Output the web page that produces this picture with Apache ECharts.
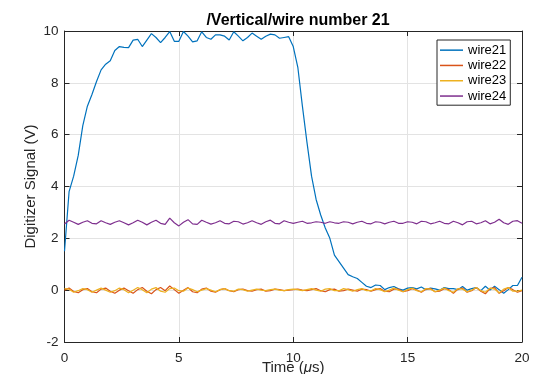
<!DOCTYPE html>
<html>
<head>
<meta charset="utf-8">
<script src="https://cdn.jsdelivr.net/npm/echarts@6/dist/echarts.min.js"></script>
<style>
  html, body { margin: 0; padding: 0; background: #fff; }
  #chart { width: 542px; height: 374px; }
</style>
</head>
<body>
<div id="chart"></div>
<script>
// sample times (microseconds)
const times = [
  0, 0.2, 0.4, 0.6, 0.8, 1, 1.2, 1.4, 1.6, 1.8,
  2, 2.2, 2.4, 2.6, 2.8, 3, 3.2, 3.4, 3.6, 3.8,
  4, 4.2, 4.4, 4.6, 4.8, 5, 5.2, 5.4, 5.6, 5.8,
  6, 6.2, 6.4, 6.6, 6.8, 7, 7.2, 7.4, 7.6, 7.8,
  8, 8.2, 8.4, 8.6, 8.8, 9, 9.2, 9.4, 9.6, 9.8,
  10, 10.2, 10.4, 10.6, 10.8, 11, 11.2, 11.4, 11.6, 11.8,
  12, 12.2, 12.4, 12.6, 12.8, 13, 13.2, 13.4, 13.6, 13.8,
  14, 14.2, 14.4, 14.6, 14.8, 15, 15.2, 15.4, 15.6, 15.8,
  16, 16.2, 16.4, 16.6, 16.8, 17, 17.2, 17.4, 17.6, 17.8,
  18, 18.2, 18.4, 18.6, 18.8, 19, 19.2, 19.4, 19.6, 19.8,
  20
]

const wire21 = [
  1.5, 3.8, 4.4, 5.2, 6.35, 7.1, 7.55, 8.05, 8.5, 8.72,
  8.85, 9.25, 9.4, 9.37, 9.36, 9.65, 9.68, 9.4, 9.65, 9.9,
  9.75, 9.55, 9.75, 9.98, 9.6, 9.6, 9.98, 9.8, 9.58, 9.62,
  9.97, 9.75, 9.68, 9.85, 9.85, 9.8, 9.65, 9.97, 9.8, 9.62,
  9.75, 9.92, 9.8, 9.68, 9.8, 9.88, 9.85, 9.72, 9.75, 9.78,
  9.4, 8.6, 7.1, 5.7, 4.4, 3.5, 2.9, 2.4, 2.0, 1.35,
  1.1, 0.85, 0.6, 0.52, 0.45, 0.3, 0.15, 0.1, 0.2, 0.18,
  0.02, 0.1, 0.14, 0.05, 0.0, 0.08, 0.1, 0.05, 0.12, 0.02,
  0.08, 0.05, 0.0, 0.1, 0.06, 0.06, 0.02, 0.14, 0.0, 0.06,
  0.1, -0.02, 0.15, 0.0, 0.15, 0.02, -0.12, 0.02, 0.18, 0.18,
  0.5
]

const wire22 = [
  0.0, 0.08, -0.05, -0.1, 0.02, 0.06, -0.06, -0.1, 0.04, 0.08,
  -0.04, -0.12, 0.0, 0.08, -0.02, -0.12, 0.02, 0.1, -0.04, -0.14,
  0.02, 0.1, -0.02, 0.16, 0.02, -0.12, 0.0, 0.1, -0.06, -0.1,
  0.04, 0.08, -0.04, -0.08, 0.02, 0.06, -0.02, -0.06, 0.02, 0.04,
  -0.02, -0.04, 0.02, 0.04, -0.04, -0.02, 0.04, 0.02, -0.02, 0.0,
  0.02, 0.04, 0.0, -0.02, 0.02, 0.06, -0.02, -0.06, 0.02, 0.04,
  -0.04, -0.02, 0.04, 0.0, -0.04, 0.04, 0.02, -0.04, 0.02, 0.06,
  -0.04, -0.06, 0.04, 0.04, -0.06, -0.02, 0.06, 0.0, -0.08, 0.04,
  0.06, -0.06, -0.04, 0.06, 0.02, -0.12, 0.04, 0.08, -0.08, -0.02,
  0.1, -0.04, -0.14, 0.06, 0.1, -0.12, -0.02, 0.1, 0.02, -0.08,
  -0.02
]

const wire23 = [
  0.06, 0.04, -0.08, -0.02, 0.06, 0.02, -0.08, 0.0, 0.08, 0.0,
  -0.08, -0.02, 0.08, 0.02, -0.1, 0.0, 0.1, 0.02, -0.1, 0.04,
  0.1, -0.04, -0.08, 0.06, 0.08, -0.02, -0.04, 0.08, 0.02, -0.06,
  0.0, 0.06, 0.0, -0.06, 0.02, 0.06, -0.02, -0.04, 0.04, 0.02,
  -0.04, 0.0, 0.04, 0.0, -0.02, 0.02, 0.04, 0.0, -0.02, 0.02,
  0.04, 0.02, -0.02, 0.02, 0.06, 0.0, -0.04, 0.04, 0.06, -0.02,
  -0.02, 0.06, 0.02, -0.04, 0.02, 0.06, -0.02, -0.02, 0.06, 0.02,
  -0.06, 0.0, 0.08, 0.0, -0.06, 0.02, 0.08, -0.02, -0.06, 0.06,
  0.04, -0.06, 0.0, 0.08, -0.02, -0.08, 0.06, 0.04, -0.06, 0.0,
  0.1, -0.02, -0.08, 0.08, 0.04, -0.1, 0.04, 0.1, -0.04, -0.04,
  0.0
]

const wire24 = [
  2.55, 2.7, 2.62, 2.54, 2.62, 2.68, 2.58, 2.56, 2.68, 2.6,
  2.54, 2.62, 2.68, 2.6, 2.52, 2.6, 2.7, 2.62, 2.52, 2.62,
  2.7, 2.58, 2.54, 2.78, 2.6, 2.48, 2.62, 2.72, 2.56, 2.54,
  2.7, 2.62, 2.55, 2.6, 2.68, 2.58, 2.56, 2.66, 2.64, 2.55,
  2.6, 2.68, 2.6, 2.54, 2.64, 2.7, 2.58, 2.56, 2.68, 2.62,
  2.58, 2.62, 2.66, 2.58, 2.6, 2.64, 2.62, 2.58, 2.64, 2.6,
  2.58, 2.64, 2.62, 2.56, 2.62, 2.66, 2.58, 2.56, 2.64, 2.62,
  2.56, 2.62, 2.66, 2.58, 2.58, 2.64, 2.62, 2.56, 2.66, 2.64,
  2.56, 2.6, 2.66, 2.58, 2.56, 2.66, 2.6, 2.52, 2.64, 2.66,
  2.56, 2.6, 2.68, 2.56, 2.62, 2.74, 2.6, 2.54, 2.66, 2.68,
  2.58
]

const seriesNames = ['wire21', 'wire22', 'wire23', 'wire24']
const seriesColors = ['#0072BD', '#D95319', '#EDB120', '#7E2F8E']
const seriesValues = [wire21, wire22, wire23, wire24]

const xTicks = [0, 20, 5]   // min, max, step
const yTicks = [-2, 10, 2]

const font = 'Liberation Sans, Arial, Helvetica, sans-serif'
const axisColor = '#262626'

const toPairs = (vals) => vals.map((v, i) => [times[i], v])

const chart = echarts.init(document.getElementById('chart'))

// top / right box lines, ticks only
const boxAxis = (extra) => Object.assign({
  type: 'value',
  axisLine: { show: true, onZero: false, lineStyle: { color: axisColor, width: 1 } },
  axisTick: { show: true, inside: true, length: 5, lineStyle: { color: axisColor } },
  axisLabel: { show: false },
  splitLine: { show: false }
}, extra)

const option = {
  animation: false,
  backgroundColor: '#fff',
  title: {
    text: '/Vertical/wire number 21',
    left: 293,
    top: 8,
    textAlign: 'center',
    textStyle: { fontFamily: font, fontSize: 16, fontWeight: 'bold', color: '#000' }
  },
  legend: {
    data: seriesNames.map((n) => ({ name: n, icon: 'rect' })),
    orient: 'vertical',
    left: 437,
    top: 40,
    padding: [3, 4, 2, 3],
    itemWidth: 23,
    itemHeight: 1.5,
    itemGap: 1,
    backgroundColor: '#fff',
    borderColor: axisColor,
    borderWidth: 1,
    borderRadius: 0,
    textStyle: { fontFamily: font, fontSize: 13, lineHeight: 14.3, color: '#000' }
  },
  grid: { left: 64.5, right: 20, top: 31, bottom: 32, containLabel: false, outerBoundsMode: 'none' },
  xAxis: [
    {
      type: 'value',
      min: xTicks[0], max: xTicks[1], interval: xTicks[2],
      name: '{n|Time (}{i|\u03bc}{n|s)}',
      nameLocation: 'middle',
      nameGap: 18,
      nameMoveOverlap: false,
      nameTextStyle: {
        rich: {
          n: { fontFamily: font, fontSize: 15, color: axisColor },
          i: { fontFamily: font, fontSize: 15, fontStyle: 'italic', color: axisColor }
        }
      },
      axisLine: { show: true, onZero: false, lineStyle: { color: axisColor, width: 1 } },
      axisTick: { show: true, inside: true, length: 5, lineStyle: { color: axisColor } },
      axisLabel: { fontFamily: font, fontSize: 13.5, color: axisColor, margin: 9 },
      splitLine: { show: true, lineStyle: { color: '#e3e3e3', width: 1 } }
    },
    boxAxis({ position: 'top', min: xTicks[0], max: xTicks[1], interval: xTicks[2] })
  ],
  yAxis: [
    {
      type: 'value',
      min: yTicks[0], max: yTicks[1], interval: yTicks[2],
      name: 'Digitizer Signal (V)',
      nameLocation: 'middle',
      nameGap: 26,
      nameMoveOverlap: false,
      nameTextStyle: { fontFamily: font, fontSize: 15, color: axisColor },
      axisLine: { show: true, onZero: false, lineStyle: { color: axisColor, width: 1 } },
      axisTick: { show: true, inside: true, length: 5, lineStyle: { color: axisColor } },
      axisLabel: { fontFamily: font, fontSize: 13.5, color: axisColor, margin: 6 },
      splitLine: { show: true, lineStyle: { color: '#e3e3e3', width: 1 } }
    },
    boxAxis({ position: 'right', min: yTicks[0], max: yTicks[1], interval: yTicks[2] })
  ],
  series: seriesNames.map((name, k) => ({
    name: name,
    type: 'line',
    data: toPairs(seriesValues[k]),
    showSymbol: false,
    symbol: 'none',
    lineStyle: { color: seriesColors[k], width: 1.2 },
    itemStyle: { color: seriesColors[k] },
    clip: true
  }))
}

chart.setOption(option)
</script>
</body>
</html>
